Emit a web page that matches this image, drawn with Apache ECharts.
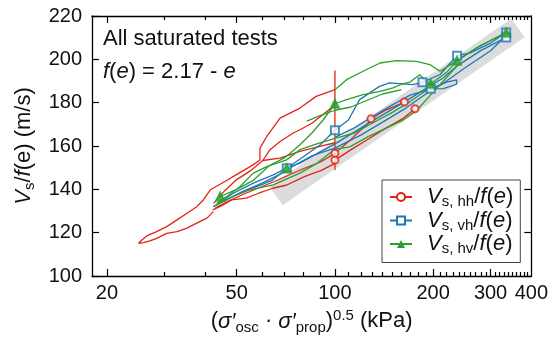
<!DOCTYPE html>
<html><head><meta charset="utf-8">
<script src="https://cdn.jsdelivr.net/npm/echarts@6/dist/echarts.min.js"></script>
<style>html,body{margin:0;padding:0;background:#fff}#c{width:551px;height:342px}</style>
</head><body><div id="c"></div>
<script>
// ---- axis ticks / labels ----
const xRange = [18, 400];
const yRange = [100, 220];
const yInterval = 20;
const xTickLabels = [20, 50, 100, 200, 300, 400];
const xLongTicks = [20, 50, 100, 200, 300];
const xShortTicks = [30, 40, 60, 70, 80, 90, 110, 120, 130, 140, 150, 160, 170, 180, 190,
  210, 220, 230, 240, 250, 260, 270, 280, 290, 310, 320, 330, 340, 350, 360, 370, 380, 390];

// ---- grey trend band ----
const bandPath = [[66, 137], [364, 214.5]];

// ---- Vs,hh / f(e) (red) ----
const hhLoopLow = [[42.4,129.7],[40.5,126.7],[37.7,124.4],[35.2,122.1],[32.8,120.5],[30.5,119.7],[28.4,117.4],[27.1,116.2],[25.9,115.4],[25.0,115.1],[25.6,116.6],[26.5,118.5],[28.4,120.5],[30.5,122.8],[32.8,125.9],[35.2,129.0],[37.7,132.0],[39.5,135.1],[41.5,139.8],[46.0,143.6],[50.8,147.5],[56.1,151.3],[58.9,153.5],[58.9,159.0],[61.8,164.4],[67.9,172.9],[78.1,177.5],[87.6,182.9],[100,186.0]];
const hhReturn = [[100,179.0],[92,174.5],[85,170.5],[78.1,167.5],[74.5,166.0],[67.9,162.1],[63,158],[60.1,153.3],[55,148.5],[50,144.5],[46,139.5],[42.5,133.5]];
const hhReturnB = [[60.1,153.3],[67.9,154.4],[78.1,157.5],[88,159.5],[100,161.5]];
const hhLowA = [[42.2,130.5],[45,132.5],[48.3,135.1],[53.4,135.9],[58.4,138.2],[64.5,140.5],[71.2,142.0],[80.6,145.9],[91.2,148.9],[100,152.0]];
const hhLowB = [[43,131.5],[47,134.5],[52,137.5],[58,140.5],[65,143.5],[72,146.5],[80,149.5],[90,152.5],[100,156.6]];
const hhHold = [[100,194.8],[100,148.9]];
const hhHighA = [[100,156.6],[111.2,162.7],[125.9,170.3],[129,172.6],[142.5,176.4],[163.3,180.3]];
const hhHighB = [[100,153.5],[111.2,158],[125.9,163],[142.5,168],[161,172.5],[176,177.2]];
const hhMarkers = [[100,153.5],[100,156.6],[129,172.6],[163.3,180.3],[176,177.2]];

// ---- Vs,vh / f(e) (blue) ----
const vhA = [[42.4,132.0],[48.8,138.2],[56.2,142.9],[64.7,146.7],[71.1,149.8],[78.1,152.1],[88,156.5],[100,161],[115,166.5],[130,171.5],[150,177],[170,182],[190,186.5],[215,191.5],[237,197],[280,204],[335,210.1]];
const vhB = [[44,133.5],[50,137.5],[57,141],[64,144],[71.2,149.7],[80,155],[90,160.5],[100,167.3],[110,172],[119,181.4],[137,187.5],[147,189.1],[173,188.3],[185.5,189.4]];
const vhC = [[100,164],[115,168.5],[130,173.5],[150,179],[170,183.5],[196.7,186.4],[220,189.5],[236,190.5],[236,188.5],[215,186.5],[196.7,186.4]];
const vhD = [[185.5,189.4],[210,193],[236.8,201.7],[260,203],[300,207.5],[335,212.4]];
const vhE = [[43.5,133],[47,135.5],[52,139],[60,143],[68,147],[75,151],[85,155.5],[100,159],[120,165],[140,171],[165,177.5],[190,184],[215,189],[250,196],[300,204],[335,211]];
const vhMarkers = [[71.2,149.7],[100,167.3],[185.5,189.4],[196.7,186.4],[236.8,201.7],[335,212.4],[335,210.1]];

// ---- Vs,hv / f(e) (green) ----
const hvA = [[43.4,133.6],[47,137],[51.2,141.3],[56.2,147.5],[61.8,150.5],[71.1,153.6],[78.1,158.3],[88,161],[100,163.5],[115,166],[130,170.5],[150,175.5],[170,180.5],[190,185.5]];
const hvB = [[42.4,132.0],[48.8,136.7],[54.9,139.8],[64.7,142.1],[78.1,147.5],[88,152],[100,158.5],[111,159.6],[126,164.2],[142.5,168],[161,171.8],[178,176.4],[195,183],[215,190],[237,197]];
const hvC = [[44.5,136.7],[50,140],[56,144],[63,151],[70,154.5],[78,160.5],[85,166],[92,172],[100,179.5]];
const hvD = [[100,179.5],[108.6,181.4],[122,183.7],[137.4,185.2],[150.7,186.8],[160,188.5],[170,189.5],[175,191],[182,192.9],[190,190],[196.7,188.7]];
const hvE = [[100,186.0],[108.6,190.6],[122,194.5],[137.4,198.3],[154.5,199.4],[178,199.1],[195.4,197.6],[210,194.5],[236.8,199.4],[270,205],[335,212.4]];
const hvF = [[196.7,188.7],[220,194],[236.8,199.4],[280,206.5],[335,212.4]];
const hvG = [[82,171.5],[90,174],[100,176.5],[112,178],[125,181],[140,184],[160,186]];
const hvMarkers = [[44.5,136.7],[71.2,149.7],[100,179.5],[196.7,188.7],[236.8,199.4],[335,212.4]];

const groups = [
  {name:'hh', color:'#e2231a', symbol:'emptyCircle', size:7, paths:[hhLoopLow, hhReturn, hhReturnB, hhLowA, hhLowB, hhHold, hhHighA, hhHighB], markers:hhMarkers},
  {name:'vh', color:'#1f77b4', symbol:'emptyRect', size:8, paths:[vhA, vhB, vhC, vhD, vhE], markers:vhMarkers},
  {name:'hv', color:'#2ca02c', symbol:'triangle', size:8, paths:[hvA, hvB, hvC, hvD, hvE, hvF, hvG], markers:hvMarkers}
];

const FONT = 'Liberation Sans';
const TXT = '#111';

function logX(position, ticks, len, labels, withLine) {
  return {
    type:'log', logBase:10, min:xRange[0], max:xRange[1], position,
    gridIndex:0,
    axisLine:{show:withLine, onZero:false, lineStyle:{color:'#000', width:1.3}},
    axisTick:{show:true, inside:true, length:len, customValues:ticks, lineStyle:{color:'#000', width:1.2}},
    axisLabel: labels ? {show:true, customValues:labels, fontFamily:FONT, fontSize:20, color:TXT, margin:7,
      formatter: v => String(Math.round(v))} : {show:false},
    splitLine:{show:false}, minorTick:{show:false}, minorSplitLine:{show:false}
  };
}
function linY(position, labels) {
  return {
    type:'value', min:yRange[0], max:yRange[1], interval:yInterval, position,
    axisLine:{show:true, onZero:false, lineStyle:{color:'#000', width:1.3}},
    axisTick:{show:true, inside:true, length:7, lineStyle:{color:'#000', width:1.2}},
    axisLabel: labels ? {show:true, fontFamily:FONT, fontSize:20, color:TXT, margin:10} : {show:false},
    splitLine:{show:false}
  };
}

const richMain = {
  n:{fontFamily:FONT, fontSize:22, color:TXT, lineHeight:27},
  i:{fontFamily:FONT, fontSize:22, fontStyle:'italic', color:TXT, lineHeight:27},
  s:{fontFamily:FONT, fontSize:15, color:TXT, verticalAlign:'bottom', lineHeight:14},
  p:{fontFamily:FONT, fontSize:15, color:TXT, verticalAlign:'top', lineHeight:14}
};

const xA = logX('bottom', xLongTicks, 7, xTickLabels, true);
xA.name = '{n|(}{i|\u03c3\u2032}{s|osc}{n| \u00b7 }{i|\u03c3\u2032}{s|prop}{n|)}{p|0.5}{n| (kPa)}';
xA.nameLocation = 'middle';
xA.nameGap = 26;
xA.nameTextStyle = {rich: richMain};

const yA = linY('left', true);
yA.name = '{i|V}{s|s}{n|/}{i|f}{n|(e) (m/s)}';
yA.nameLocation = 'middle';
yA.nameGap = 51;
yA.nameRotate = 90;
yA.nameTextStyle = {rich: richMain};

const series = [];
series.push({type:'line', name:'band', data:bandPath, showSymbol:false, silent:true, z:1,
  lineStyle:{color:'#dcdcdc', width:23, cap:'butt'}, animation:false});
groups.forEach((g, gi) => {
  g.paths.forEach(p => series.push({
    type:'line', name:g.name, data:p, showSymbol:false, symbol:g.symbol, symbolSize:8,
    lineStyle:{color:g.color, width:1.3}, itemStyle:{color:g.color, borderWidth:2},
    z:2+gi, silent:true, animation:false
  }));
});
groups.forEach((g, gi) => {
  series.push({type:'scatter', name:g.name, data:g.markers, symbol:g.symbol, symbolSize:g.size,
    itemStyle:{color:g.color, borderColor:g.color, borderWidth:2}, z:6+gi, silent:true, animation:false});
});

const chart = echarts.init(document.getElementById('c'), null, {renderer:'canvas'});
chart.setOption({
  animation:false,
  backgroundColor:'#fff',
  grid:{left:92, right:19, top:16, bottom:66, containLabel:false},
  xAxis:[xA, logX('bottom', xShortTicks, 4, null, false), logX('top', xLongTicks, 7, null, true), logX('top', xShortTicks, 4, null, false)],
  yAxis:[yA, linY('right', false)],
  legend:{
    data:['hh','vh','hv'], orient:'vertical', left:382, top:180,
    itemWidth:22, itemHeight:10, itemGap:0, padding:[6,7,6,7],
    backgroundColor:'#fff', borderColor:'#444', borderWidth:1, borderRadius:0,
    selectedMode:false,
    formatter: n => '{g| }{i|V}{s|s, ' + n + '}{n|/}{i|f}{n|(}{i|e}{n|)}',
    textStyle:{rich:{
      g:{width:10, fontSize:10},
      n:{fontFamily:FONT, fontSize:22, color:TXT, lineHeight:25},
      i:{fontFamily:FONT, fontSize:22, fontStyle:'italic', color:TXT, lineHeight:25},
      s:{fontFamily:FONT, fontSize:15, color:TXT, verticalAlign:'bottom', lineHeight:13}
    }}
  },
  graphic:[
    {type:'text', left:103, top:28, silent:true, style:{text:'All saturated tests', fontFamily:FONT, fontSize:22, fill:TXT}},
    {type:'text', left:103, top:61, silent:true, style:{
      text:'{i|f}{n|(}{i|e}{n|) = 2.17 - }{i|e}',
      rich:{i:{fontFamily:FONT, fontSize:22, fontStyle:'italic', fill:TXT}, n:{fontFamily:FONT, fontSize:22, fill:TXT}}
    }}
  ],
  series
});
</script>
</body></html>
